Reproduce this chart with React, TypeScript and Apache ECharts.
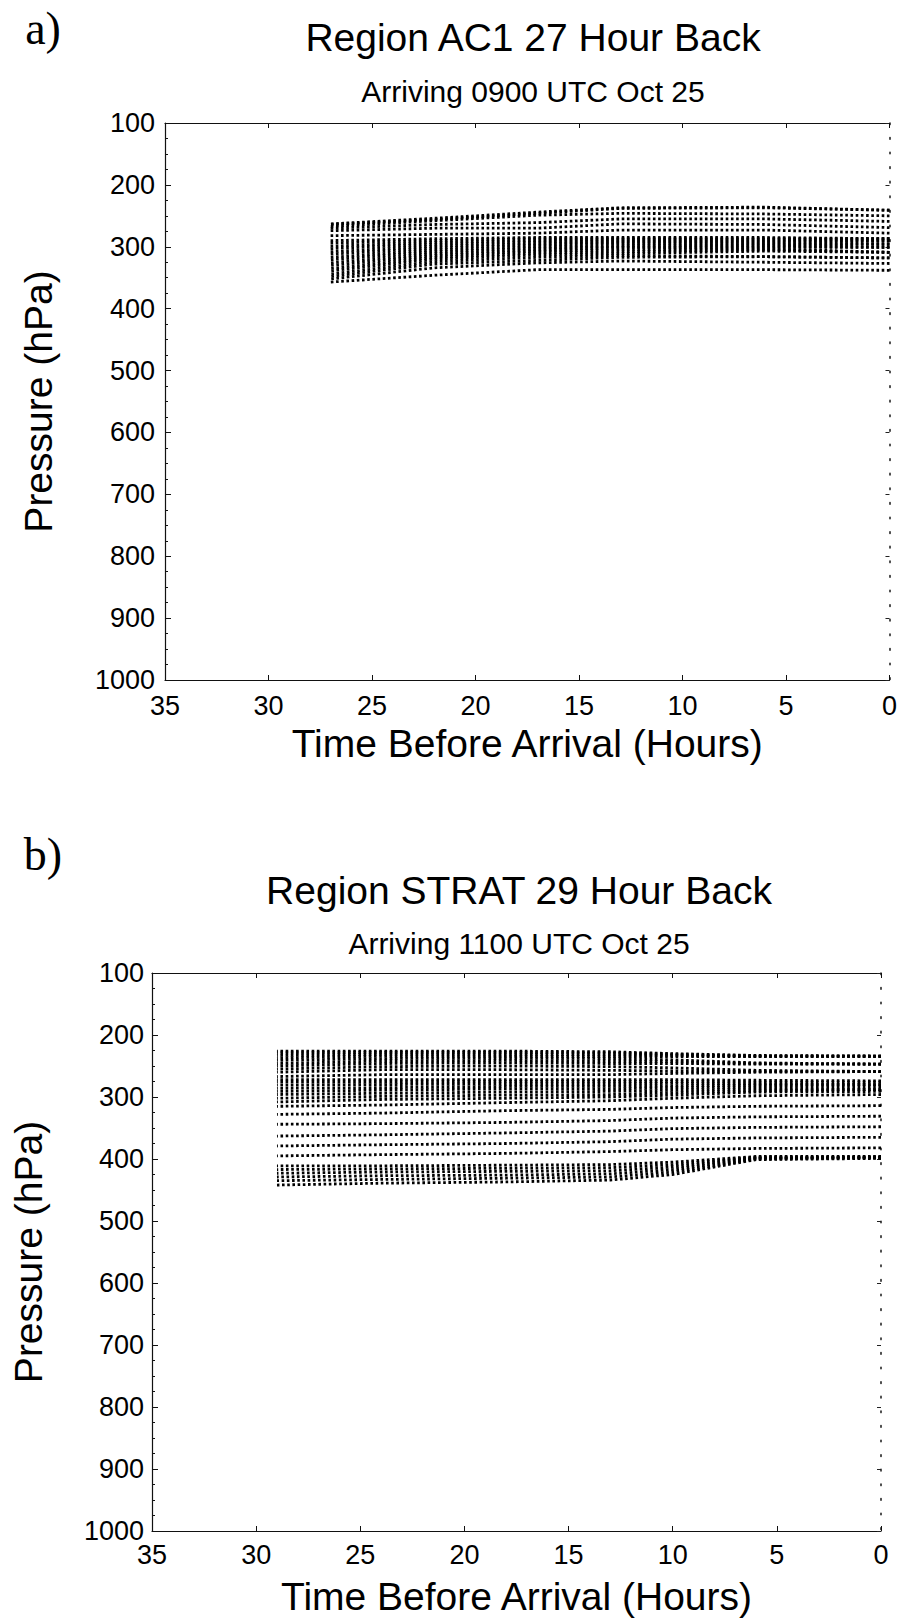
import React, { useEffect, useRef } from "react";
import * as echarts from "echarts";

const SANS = '"Liberation Sans", Arial, Helvetica, sans-serif';
const SERIF = '"Liberation Serif", "Times New Roman", serif';

// ---------- Panel a) Region AC1, 27 hour back ----------
// hours before arrival at which pressures were read (arrival first)
const timesA = [0, 6, 13, 17, 22, 27];
// upper bundle of trajectories (hPa at timesA)
const upperA = [
  [241, 236, 237, 244, 254, 263],
  [241, 237, 238, 246, 256, 264],
  [250, 247, 246, 249, 258, 267],
  [259, 255, 255, 261, 264, 270],
  [269, 264, 263, 270, 270, 274],
  [278, 273, 273, 278, 280, 282],
];
// lower bundle of trajectories (hPa at timesA)
const lowerA = [
  [287, 285, 285, 285, 287, 290],
  [287, 287, 287, 287, 290, 294],
  [287, 289, 289, 290, 293, 299],
  [291, 291, 291, 292, 296, 303],
  [291, 293, 293, 295, 299, 308],
  [296, 295, 295, 297, 302, 312],
  [296, 297, 298, 300, 305, 317],
  [301, 299, 300, 302, 308, 321],
  [301, 301, 302, 305, 311, 326],
  [309, 303, 305, 307, 314, 330],
  [309, 305, 308, 310, 317, 335],
  [309, 307, 311, 313, 320, 339],
  [318, 316, 314, 317, 324, 344],
  [318, 316, 317, 322, 328, 348],
  [327, 325, 323, 326, 334, 352],
  [338, 337, 337, 337, 346, 357],
];

// ---------- Panel b) Region STRAT, 29 hour back ----------
const timesB = [0, 6, 10, 13, 18, 24, 29];
const topBandB = [
  [234, 233, 230, 227, 226, 226, 226],
  [234, 234, 231, 229, 228, 228, 229],
  [234, 234, 233, 232, 231, 231, 233],
  [235, 235, 235, 235, 234, 234, 237],
  [247, 245, 240, 238, 237, 238, 241],
  [247, 246, 243, 242, 241, 242, 246],
  [247, 247, 246, 246, 245, 246, 250],
  [259, 257, 253, 251, 250, 251, 255],
  [259, 259, 258, 257, 256, 256, 260],
  [259, 260, 262, 264, 264, 264, 267],
];
const secondBandB = [
  [274, 273, 272, 272, 272, 272, 272],
  [276, 276, 275, 275, 275, 276, 276],
  [280, 279, 278, 279, 279, 280, 281],
  [280, 281, 282, 283, 283, 285, 286],
  [284, 284, 285, 287, 287, 289, 291],
  [288, 287, 289, 291, 292, 294, 296],
  [288, 290, 293, 296, 297, 299, 302],
  [291, 292, 297, 300, 302, 304, 308],
];
const rowsB = [
  [296, 298, 302, 306, 309, 313, 315],
  [314, 315, 317, 320, 322, 326, 328],
  [331, 332, 334, 338, 341, 343, 344],
  [348, 349, 351, 355, 358, 361, 363],
  [365, 366, 368, 372, 375, 377, 379],
  [382, 383, 385, 388, 391, 393, 395],
];
const bottomBandB = [
  [396, 396, 405, 409, 410, 411, 411],
  [397, 397, 409, 414, 415, 416, 417],
  [397, 398, 413, 419, 420, 421, 423],
  [398, 399, 417, 424, 426, 427, 429],
  [398, 400, 421, 429, 431, 433, 435],
  [399, 401, 425, 434, 437, 439, 442],
];

const hourRange = [0, 35];
const pressureRange = [100, 1000];

function trajSeries(times: number[], groups: number[][], xi: number, yi: number) {
  return groups.map((ps) => ({
    type: "line",
    xAxisIndex: xi,
    yAxisIndex: yi,
    data: times.map((t, i) => [t, ps[i]]),
    showSymbol: false,
    symbol: "none",
    silent: true,
    clip: false,
    lineStyle: { color: "#000", width: 2.8, type: [2.6, 2.6], cap: "butt" },
    z: 3,
  }));
}

const plainNumber = (v: number) => String(v);

function xAxes(gridIndex: number, labelMargin: number, nameGap: number) {
  const common = {
    type: "value",
    gridIndex,
    min: hourRange[0],
    max: hourRange[1],
    interval: 5,
    inverse: true,
    splitLine: { show: false },
    axisLine: { show: true, onZero: false, lineStyle: { color: "#111", width: 1.2 } },
    axisTick: { show: true, inside: true, length: 5, lineStyle: { color: "#111", width: 1 } },
  };
  return [
    {
      ...common,
      position: "bottom",
      axisLabel: { color: "#000", fontSize: 27, fontFamily: SANS, margin: labelMargin, formatter: plainNumber },
      name: "Time Before Arrival (Hours)",
      nameLocation: "middle",
      nameGap,
      nameTextStyle: { color: "#000", fontSize: 39, fontFamily: SANS },
    },
    { ...common, position: "top", axisLabel: { show: false } },
  ];
}

function yAxes(gridIndex: number, labelMargin: number, nameGap: number) {
  const common = {
    type: "value",
    gridIndex,
    min: pressureRange[0],
    max: pressureRange[1],
    interval: 100,
    inverse: true,
    splitLine: { show: false },
  };
  return [
    {
      ...common,
      position: "left",
      axisLine: { show: true, onZero: false, lineStyle: { color: "#111", width: 1.2 } },
      axisTick: { show: true, inside: true, length: 6, lineStyle: { color: "#111", width: 1 } },
      minorTick: { show: true, splitNumber: 4, length: 3, lineStyle: { color: "#111", width: 1 } },
      axisLabel: { color: "#000", fontSize: 27, fontFamily: SANS, margin: labelMargin, formatter: plainNumber },
      name: "Pressure (hPa)",
      nameLocation: "middle",
      nameRotate: 90,
      nameGap,
      nameTextStyle: { color: "#000", fontSize: 39, fontFamily: SANS },
    },
    {
      ...common,
      position: "right",
      axisLine: { show: true, onZero: false, lineStyle: { color: "#222", width: 1.6, type: [1.6, 13] } },
      axisTick: { show: true, inside: true, length: 4, lineStyle: { color: "#222", width: 1 } },
      axisLabel: { show: false },
    },
  ];
}

function textEl(text: string, x: number, y: number, size: number, family: string) {
  return {
    type: "text",
    x,
    y,
    silent: true,
    style: { text, fontSize: size, fontFamily: family, fill: "#000", align: "center", verticalAlign: "middle" },
  };
}

export default function App() {
  const ref = useRef<HTMLDivElement>(null);
  useEffect(() => {
    document.body.style.margin = "0";
    const chart = echarts.init(ref.current as HTMLDivElement, null, { renderer: "svg" });
    const option = {
      animation: false,
      backgroundColor: "#fff",
      grid: [
        { left: 165, top: 123, width: 730, height: 557 },
        { left: 152, top: 973, width: 729, height: 558 },
      ],
      xAxis: [...xAxes(0, 12, 44), ...xAxes(1, 10, 46)],
      yAxis: [...yAxes(0, 10, 107), ...yAxes(1, 8, 104)],
      series: [
        ...trajSeries(timesA, upperA, 0, 0),
        ...trajSeries(timesA, lowerA, 0, 0),
        ...trajSeries(timesB, topBandB, 2, 2),
        ...trajSeries(timesB, secondBandB, 2, 2),
        ...trajSeries(timesB, rowsB, 2, 2),
        ...trajSeries(timesB, bottomBandB, 2, 2),
      ],
      graphic: [
        textEl("a)", 43, 28, 46, SERIF),
        textEl("Region AC1 27 Hour Back", 533, 37, 39, SANS),
        textEl("Arriving 0900 UTC Oct 25", 533, 91, 30, SANS),
        textEl("b)", 43, 854, 46, SERIF),
        textEl("Region STRAT 29 Hour Back", 519, 890, 39, SANS),
        textEl("Arriving 1100 UTC Oct 25", 519, 943, 30, SANS),
      ],
    };
    chart.setOption(option as any);
    return () => chart.dispose();
  }, []);
  return <div ref={ref} style={{ width: 900, height: 1621 }} />;
}
